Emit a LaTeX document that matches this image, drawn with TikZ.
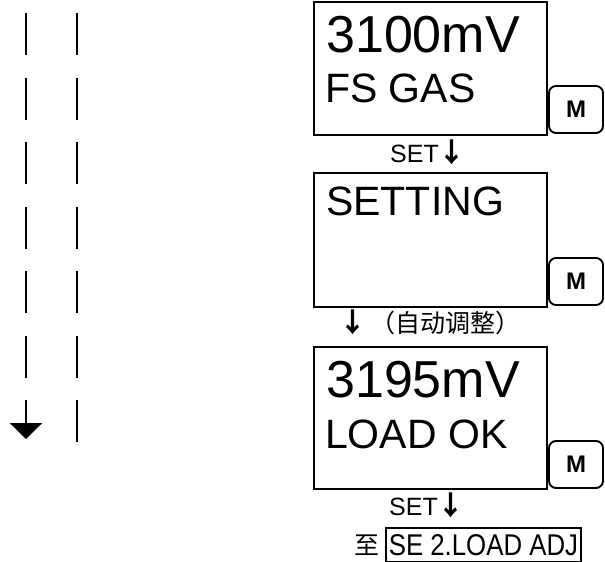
\documentclass[tikz,border=0pt]{standalone}
\usepackage{fontspec}
\setmainfont{Liberation Sans}
\newfontfamily\cjk{Noto Sans CJK SC}
\newfontfamily\narrowsans[FakeStretch=0.86]{Liberation Sans}
\newcommand{\steparrow}{{\cjk\bfseries\fontsize{27}{27}\selectfont ↓}}
\usetikzlibrary{positioning, arrows.meta}
\tikzset{
    meter/.style={
        x=1pt, y=-1pt,
        display/.style={draw, rectangle, line width=2.3pt, inner sep=0pt, outer sep=0pt, minimum width=233pt, anchor=north west},
        mkey/.style={draw, rectangle, rounded corners=7pt, line width=1.9pt, minimum width=54pt, minimum height=47pt, inner sep=0pt, outer sep=0pt, font=\fontsize{24}{24}\selectfont\bfseries},
        bigline/.style={anchor=base west, inner sep=0pt, font=\fontsize{52}{52}\selectfont},
        smallline/.style={anchor=base west, inner sep=0pt, font=\fontsize{41}{41}\selectfont},
        step_label/.style={anchor=base, inner sep=0pt, font=\fontsize{25}{25}\selectfont},
        track/.style={line width=2.6pt, dash pattern=on 42pt off 22.5pt}
    }
}

\begin{document}
\begin{tikzpicture}[meter]
        \useasboundingbox (0,0) rectangle (605,562);

        % Left tracks
        \coordinate (lt) at (26,13);
        \coordinate (lb) at (26,439);
        \coordinate (rt) at (77,13);
        \coordinate (rb) at (77,442);
        \draw[track, -{Triangle[width=32pt, length=16pt]}] (lt) -- (lb);
        \draw[track] (rt) -- (rb);

        % First display
        \node[display, minimum height=133pt] (disp1) at (314,2) {};
        \node[bigline] (val1) at (326,52) {3100mV};
        \node[smallline] (msg1) at (325,102) {FS GAS};
        \node[mkey, anchor=south west] (key1) at ([xshift=2pt, yshift=2pt]disp1.south east) {M};
        \node[step_label] (set1) at (428,162) {SET\steparrow};

        % Second display
        \node[display, minimum height=134pt] (disp2) at (314,173) {};
        \node[smallline] (msg2) at (326,215) {SETTING};
        \node[mkey, anchor=south west] (key2) at ([xshift=2pt, yshift=2pt]disp2.south east) {M};
        \node[step_label] (auto) at (430,332) {\steparrow\,{\cjk\fontsize{25}{25}\selectfont （自动调整）}};

        % Third display
        \node[display, minimum height=142pt] (disp3) at (314,347) {};
        \node[bigline] (val3) at (326,397) {3195mV};
        \node[smallline] (msg3) at (325,448) {LOAD OK};
        \node[mkey, anchor=south west] (key3) at ([xshift=2pt, yshift=1pt]disp3.south east) {M};
        \node[step_label] (set2) at (427,515) {SET\steparrow};

        % Next menu
        \node[draw, line width=1.9pt, inner sep=0pt, minimum width=195pt, minimum height=34pt, anchor=north west] (target) at (385,527) {\narrowsans\fontsize{30}{30}\selectfont SE 2.LOAD ADJ};
        \node[anchor=east, inner sep=0pt, font=\cjk\fontsize{25}{25}\selectfont] (goto) at ([xshift=-5pt]target.west) {至};
    \end{tikzpicture}
\end{document}
